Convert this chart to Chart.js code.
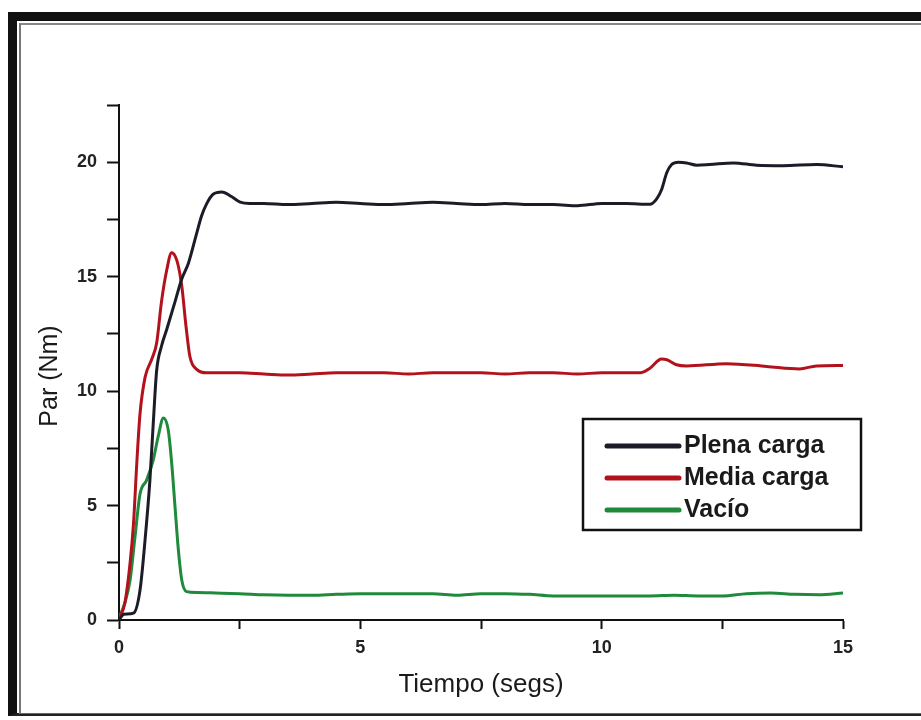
<!DOCTYPE html>
<html>
<head>
<meta charset="utf-8">
<script src="https://cdn.jsdelivr.net/npm/chart.js@4"></script>
<style>
    html, body { margin: 0; padding: 0; background: #fff; overflow: hidden; }
    #wrap { position: relative; width: 921px; height: 720px; }
    #c { position: absolute; left: 0; top: 0; }
    .frame { position: absolute; left: 8px; top: 12px; width: 960px; height: 704px;
             border-left: 9px solid #111; border-top: 9px solid #111; border-bottom: 3px solid #222;
             box-sizing: border-box; pointer-events: none; }
    .frame2 { position: absolute; left: 19px; top: 23px; width: 960px; height: 691px;
              border-left: 2px solid #777; border-top: 2px solid #888; border-bottom: 1px solid #666;
              box-sizing: border-box; pointer-events: none; }
</style>
</head>
<body>
<div id="wrap">
    <canvas id="c" width="921" height="720"></canvas>
    <div class="frame"></div>
    <div class="frame2"></div>
</div>
<script>
// Plena carga
const tPlena = [0, 0.1, 0.3, 0.435, 0.54, 0.64, 0.71, 0.78, 0.88, 0.99, 1.16, 1.3, 1.44, 1.61, 1.71, 1.82, 1.95, 2.13, 2.33, 2.51, 2.71,
    3.0, 3.5, 4.0, 4.5, 5.0, 5.5, 6.0, 6.5, 7.0, 7.5, 8.0, 8.5, 9.0, 9.5, 10.0, 10.5, 11.0,
    11.14, 11.24, 11.35, 11.45, 11.59, 11.76, 11.97, 12.24, 12.73, 13.21, 13.76, 14.45, 15.0];
const plena = [0, 0.25, 0.3, 1.3, 3.5, 6.1, 8.6, 10.9, 11.96, 12.7, 13.9, 14.9, 15.6, 16.9, 17.65, 18.2, 18.6, 18.7, 18.5, 18.26, 18.2,
    18.2, 18.15, 18.2, 18.25, 18.2, 18.15, 18.2, 18.25, 18.2, 18.15, 18.2, 18.15, 18.15, 18.1, 18.2, 18.2, 18.16,
    18.4, 18.8, 19.55, 19.9, 20.0, 19.97, 19.87, 19.9, 19.97, 19.87, 19.85, 19.9, 19.8];

// Media carga
const tMedia = [0, 0.12, 0.23, 0.3, 0.37, 0.435, 0.54, 0.68, 0.78, 0.88, 0.99, 1.09, 1.2, 1.3, 1.39, 1.47, 1.61, 1.82,
    2.0, 2.5, 3.0, 3.5, 4.0, 4.5, 5.0, 5.5, 6.0, 6.5, 7.0, 7.5, 8.0, 8.5, 9.0, 9.5, 10.0, 10.5, 10.8,
    11.0, 11.24, 11.35, 11.55, 11.76, 12.59, 13.42, 14.1, 14.45, 15.0];
const media = [0.05, 0.73, 2.5, 4.2, 6.9, 9.0, 10.6, 11.4, 12.1, 13.9, 15.3, 16.05, 15.7, 14.6, 12.8, 11.5, 10.95, 10.8,
    10.8, 10.8, 10.75, 10.7, 10.75, 10.8, 10.8, 10.8, 10.75, 10.8, 10.8, 10.8, 10.75, 10.8, 10.8, 10.75, 10.8, 10.8, 10.8,
    11.0, 11.4, 11.37, 11.15, 11.1, 11.2, 11.08, 10.97, 11.1, 11.12];

// Vacío
const tVacio = [0, 0.12, 0.23, 0.33, 0.435, 0.57, 0.71, 0.81, 0.92, 1.02, 1.09, 1.16, 1.23, 1.3, 1.4, 1.62,
    2.0, 2.5, 3.0, 3.5, 4.0, 4.5, 5.0, 5.5, 6.0, 6.5, 7.0, 7.5, 8.0, 8.5, 9.0, 9.5, 10.0, 10.5, 11.0, 11.5,
    12.0, 12.5, 13.0, 13.5, 14.0, 14.5, 15.0];
const vacio = [0.1, 0.73, 1.75, 3.6, 5.5, 6.1, 7.0, 8.0, 8.83, 8.3, 6.9, 4.96, 3.06, 1.75, 1.24, 1.2,
    1.18, 1.15, 1.1, 1.08, 1.08, 1.12, 1.15, 1.15, 1.15, 1.15, 1.08, 1.15, 1.15, 1.12, 1.05, 1.05, 1.05, 1.05, 1.05, 1.08,
    1.05, 1.05, 1.15, 1.18, 1.12, 1.1, 1.18];

const xTicks = [0, 5, 10, 15];
const yTicks = [0, 5, 10, 15, 20];
const FONT = '"Liberation Sans", Arial, sans-serif';

function toPoints(ts, vs) {
    return ts.map((t, i) => ({ x: t, y: vs[i] }));
}

// legend box inside the plot + y title placed like the original figure
const boxLegend = {
    id: 'boxLegend',
    afterDraw(chart) {
        const ctx = chart.ctx;
        const x0 = 583, y0 = 419, w = 278, h = 111;
        ctx.save();
        ctx.fillStyle = '#fff';
        ctx.fillRect(x0, y0, w, h);
        ctx.strokeStyle = '#111';
        ctx.lineWidth = 2.5;
        ctx.strokeRect(x0, y0, w, h);
        ctx.font = 'bold 25px ' + FONT;
        ctx.textBaseline = 'middle';
        chart.data.datasets.forEach((ds, i) => {
            const y = y0 + 27 + i * 32;
            ctx.strokeStyle = ds.borderColor;
            ctx.lineWidth = 5;
            ctx.lineCap = 'round';
            ctx.beginPath();
            ctx.moveTo(607, y);
            ctx.lineTo(679, y);
            ctx.stroke();
            ctx.fillStyle = '#1a1a1a';
            ctx.fillText(ds.label, 684, y);
        });

        // y axis title
        ctx.translate(50, 376);
        ctx.rotate(-Math.PI / 2);
        ctx.font = '25px ' + FONT;
        ctx.textAlign = 'center';
        ctx.fillText('Par (Nm)', 0, 0);
        ctx.restore();
    }
};

const ctx = document.getElementById('c').getContext('2d');
new Chart(ctx, {
    type: 'line',
    data: {
        datasets: [{
            label: 'Plena carga',
            data: toPoints(tPlena, plena),
            borderColor: '#1c1c28',
            borderWidth: 3,
            cubicInterpolationMode: 'monotone',
            pointRadius: 0
        }, {
            label: 'Media carga',
            data: toPoints(tMedia, media),
            borderColor: '#b3121d',
            borderWidth: 3,
            cubicInterpolationMode: 'monotone',
            pointRadius: 0
        }, {
            label: 'Vacío',
            data: toPoints(tVacio, vacio),
            borderColor: '#1f8a3b',
            borderWidth: 3,
            cubicInterpolationMode: 'monotone',
            pointRadius: 0
        }]
    },
    options: {
        responsive: false,
        animation: false,
        layout: { padding: { left: 30, top: 105, right: 78, bottom: 20 } },
        plugins: {
            legend: { display: false },
            tooltip: { enabled: false }
        },
        scales: {
            x: {
                type: 'linear',
                min: 0,
                max: 15,
                afterFit: s => { s.height = 80; },
                afterBuildTicks: s => {
                    s.ticks = [0, 2.5, 5, 7.5, 10, 12.5, 15].map(v => ({ value: v }));
                },
                ticks: {
                    callback: v => xTicks.includes(v) ? String(v) : '',
                    color: '#222',
                    font: { family: FONT, size: 18, weight: 'bold' },
                    padding: 8,
                    maxRotation: 0,
                    autoSkip: false
                },
                grid: { drawOnChartArea: false, tickLength: 9, tickColor: '#111', tickWidth: 2 },
                border: { color: '#111', width: 2 },
                title: {
                    display: true,
                    text: 'Tiempo (segs)',
                    color: '#1a1a1a',
                    font: { family: FONT, size: 26 },
                    padding: 0
                }
            },
            y: {
                min: 0,
                max: 22.5,
                afterFit: s => { s.width = 89; },
                afterBuildTicks: s => {
                    s.ticks = [0, 2.5, 5, 7.5, 10, 12.5, 15, 17.5, 20, 22.5].map(v => ({ value: v }));
                },
                ticks: {
                    callback: v => yTicks.includes(v) ? String(v) : '',
                    color: '#222',
                    font: { family: FONT, size: 18, weight: 'bold' },
                    padding: 10,
                    autoSkip: false
                },
                grid: { drawOnChartArea: false, tickLength: 12, tickColor: '#111', tickWidth: 2 },
                border: { color: '#111', width: 2 }
            }
        }
    },
    plugins: [boxLegend]
});
</script>
</body>
</html>
